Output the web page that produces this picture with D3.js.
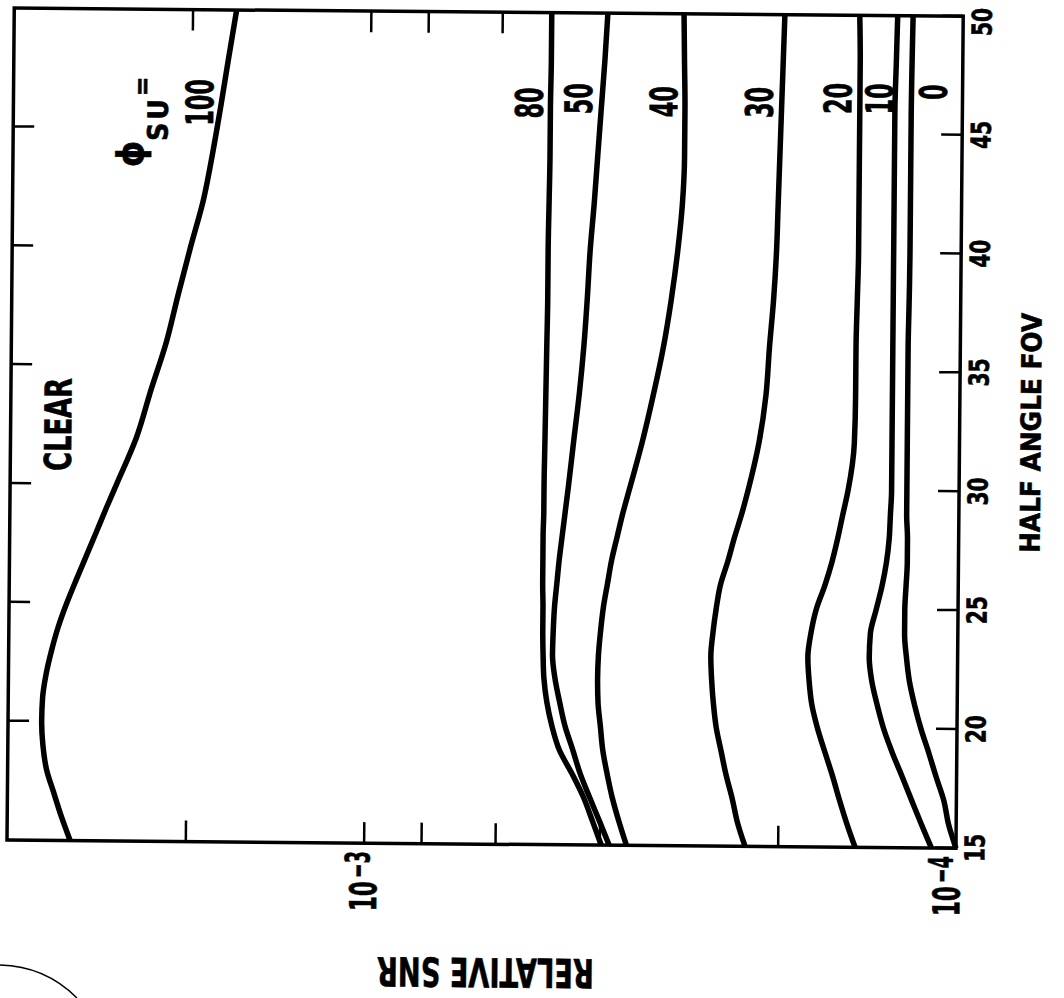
<!DOCTYPE html>
<html>
<head>
<meta charset="utf-8">
<script src="https://cdn.jsdelivr.net/npm/d3@7"></script>
<style>
	html, body { margin: 0; padding: 0; background: #fff; }
	svg { display: block; }
	text { font-family: "DejaVu Sans Condensed", "DejaVu Sans", sans-serif; font-weight: bold; fill: #000; stroke: #000; stroke-width: 0.6; }
</style>
</head>
<body>
<div id="chart"></div>
<script>
// half angle FOV (deg), shared by every curve
const fov = [15, 16, 17, 18, 19, 20, 21, 22, 23, 24, 25, 26, 27, 28, 29, 30, 32, 34, 36, 38, 40, 42, 44, 46, 48, 50];
const fovTicks = [15, 20, 25, 30, 35, 40, 45, 50];
const snrTicks = [2e-4, 4e-4, 6e-4, 8e-4, 1e-3, 2e-3];
const snrLabels = [1e-4, 1e-3];

// relative SNR for each phi_SU
const snr100 = [3.13e-3, 3.24e-3, 3.34e-3, 3.44e-3, 3.49e-3, 3.51e-3, 3.50e-3, 3.455e-3, 3.385e-3, 3.30e-3, 3.195e-3, 3.08e-3, 2.965e-3, 2.855e-3, 2.75e-3, 2.645e-3, 2.45e-3, 2.32e-3, 2.19e-3, 2.095e-3, 2.00e-3, 1.905e-3, 1.84e-3, 1.785e-3, 1.735e-3, 1.685e-3];
const snr80 = [3.97e-4, 4.11e-4, 4.26e-4, 4.46e-4, 4.69e-4, 4.83e-4, 4.93e-4, 4.99e-4, 5.01e-4, 5.02e-4, 5.02e-4, 5.03e-4, 5.03e-4, 5.03e-4, 5.02e-4, 5.02e-4, 5.01e-4, 5.00e-4, 4.99e-4, 4.98e-4, 4.98e-4, 4.97e-4, 4.96e-4, 4.96e-4, 4.95e-4, 4.95e-4];
const snr50 = [3.85e-4, 4.00e-4, 4.16e-4, 4.32e-4, 4.45e-4, 4.59e-4, 4.69e-4, 4.78e-4, 4.83e-4, 4.82e-4, 4.80e-4, 4.76e-4, 4.72e-4, 4.67e-4, 4.62e-4, 4.57e-4, 4.48e-4, 4.39e-4, 4.32e-4, 4.27e-4, 4.23e-4, 4.17e-4, 4.12e-4, 4.07e-4, 4.02e-4, 3.98e-4];
const snr40 = [3.60e-4, 3.71e-4, 3.81e-4, 3.89e-4, 3.96e-4, 4.00e-4, 4.04e-4, 4.05e-4, 4.04e-4, 4.01e-4, 3.97e-4, 3.91e-4, 3.85e-4, 3.77e-4, 3.69e-4, 3.60e-4, 3.43e-4, 3.29e-4, 3.17e-4, 3.08e-4, 3.01e-4, 2.96e-4, 2.94e-4, 2.94e-4, 2.95e-4, 2.96e-4];
const snr30 = [2.27e-4, 2.34e-4, 2.39e-4, 2.45e-4, 2.50e-4, 2.55e-4, 2.58e-4, 2.60e-4, 2.61e-4, 2.59e-4, 2.56e-4, 2.52e-4, 2.45e-4, 2.39e-4, 2.325e-4, 2.27e-4, 2.18e-4, 2.125e-4, 2.10e-4, 2.07e-4, 2.05e-4, 2.04e-4, 2.03e-4, 2.02e-4, 2.01e-4, 2.00e-4];
const snr20 = [1.48e-4, 1.53e-4, 1.576e-4, 1.62e-4, 1.67e-4, 1.72e-4, 1.76e-4, 1.78e-4, 1.79e-4, 1.77e-4, 1.735e-4, 1.68e-4, 1.635e-4, 1.60e-4, 1.57e-4, 1.54e-4, 1.505e-4, 1.50e-4, 1.50e-4, 1.495e-4, 1.49e-4, 1.49e-4, 1.49e-4, 1.49e-4, 1.49e-4, 1.495e-4];
const snr10 = [1.10e-4, 1.145e-4, 1.19e-4, 1.236e-4, 1.285e-4, 1.33e-4, 1.365e-4, 1.395e-4, 1.41e-4, 1.405e-4, 1.375e-4, 1.345e-4, 1.323e-4, 1.31e-4, 1.305e-4, 1.30e-4, 1.30e-4, 1.30e-4, 1.30e-4, 1.30e-4, 1.30e-4, 1.30e-4, 1.30e-4, 1.30e-4, 1.295e-4, 1.29e-4];
const snr0 = [1.00e-4, 1.03e-4, 1.05e-4, 1.083e-4, 1.115e-4, 1.15e-4, 1.18e-4, 1.205e-4, 1.22e-4, 1.23e-4, 1.23e-4, 1.225e-4, 1.22e-4, 1.22e-4, 1.225e-4, 1.225e-4, 1.225e-4, 1.225e-4, 1.225e-4, 1.222e-4, 1.22e-4, 1.22e-4, 1.22e-4, 1.22e-4, 1.218e-4, 1.215e-4];

// curve labels (baseline point in data units)
const curveNames = ['100', '80', '50', '40', '30', '20', '10', '0'];
const labelFov = [46.1, 46.2, 46.4, 46.3, 46.3, 46.5, 46.5, 46.8];
const labelSnr = [1.84e-3, 5.11e-4, 4.22e-4, 3.03e-4, 2.09e-4, 1.54e-4, 1.31e-4, 1.063e-4];

(() => {
	const W = 832;   // FOV axis length
	const H = 949;   // SNR axis length

	const svg = d3.select('#chart').append('svg')
		.attr('width', 1064)
		.attr('height', 998);
	svg.append('rect')
		.attr('width', 1064)
		.attr('height', 998)
		.attr('fill', '#fff');

	// chart is drawn upright, then turned a quarter left (with the scan's small tilt)
	const chart = svg.append('g')
		.attr('transform', 'translate(7, 840) rotate(-89.5)');

	const x = d3.scaleLinear().domain([15, 50]).range([0, W]);
	const y = d3.scaleLog().domain([1e-4, 4e-3]).range([H, 0]);

	const tickStyle = g => {
		g.select('.domain').remove();
		g.selectAll('.tick line')
			.attr('stroke', '#000')
			.attr('stroke-width', 2.5);
	};

	/* --------- Axes --------- */
	chart.append('g')
		.attr('transform', `translate(0, ${H})`)
		.call(d3.axisBottom(x).tickValues(fovTicks).tickSize(-21).tickPadding(9))
		.call(tickStyle)
		.call(g => g.selectAll('.tick text')
			.attr('font-size', 27.5)
			.attr('textLength', 28)
			.attr('lengthAdjust', 'spacingAndGlyphs'))
		// last label sits just inside the page edge
		.call(g => g.selectAll('.tick text').filter(d => d === 50).attr('dx', -6));
	chart.append('g')
		.call(d3.axisTop(x).tickValues(fovTicks.slice(1, -1)).tickSize(-21).tickFormat(''))
		.call(tickStyle);
	chart.append('g')
		.call(d3.axisLeft(y).tickValues(snrTicks).tickSize(-21).tickFormat(''))
		.call(tickStyle);
	chart.append('g')
		.attr('transform', `translate(${W}, 0)`)
		.call(d3.axisRight(y).tickValues(snrTicks).tickSize(-21).tickFormat(''))
		.call(tickStyle);

	chart.append('rect')
		.attr('width', W)
		.attr('height', H)
		.attr('fill', 'none')
		.attr('stroke', '#000')
		.attr('stroke-width', 3.5);

	// 10^n labels
	snrLabels.forEach(v => {
		const yb = Math.min(y(v) + 13, H + 4);
		const exp = String(Math.round(Math.log10(v))).replace('-', '\u2212');
		chart.append('text')
			.attr('x', -38)
			.attr('y', yb)
			.attr('text-anchor', 'end')
			.attr('font-size', 37)
			.attr('textLength', 30)
			.attr('lengthAdjust', 'spacingAndGlyphs')
			.text('10');
		chart.append('text')
			.attr('x', -8)
			.attr('y', yb - 7)
			.attr('text-anchor', 'end')
			.attr('font-size', 34)
			.attr('textLength', 27)
			.attr('lengthAdjust', 'spacingAndGlyphs')
			.text(exp);
	});

	chart.append('text')
		.attr('x', W / 2)
		.attr('y', H + 81)
		.attr('text-anchor', 'middle')
		.attr('font-size', 27.5)
		.attr('textLength', 240)
		.attr('lengthAdjust', 'spacingAndGlyphs')
		.text('HALF ANGLE FOV');
	chart.append('text')
		.attr('transform', `translate(-114, ${H / 2 + 5}) rotate(-90)`)
		.attr('text-anchor', 'middle')
		.attr('font-size', 40)
		.attr('textLength', 217)
		.attr('lengthAdjust', 'spacingAndGlyphs')
		.text('RELATIVE SNR');

	/* --------- Curves --------- */
	const curves = [snr100, snr80, snr50, snr40, snr30, snr20, snr10, snr0];
	const line = d3.line()
		.x((d, i) => x(fov[i]))
		.y(d => y(d))
		.curve(d3.curveMonotoneX);

	chart.append('g')
		.selectAll('path')
		.data(curves)
		.enter().append('path')
			.attr('d', line)
			.attr('fill', 'none')
			.attr('stroke', '#000')
			.attr('stroke-width', 5.5);

	chart.append('g')
		.selectAll('text')
		.data(curveNames)
		.enter().append('text')
			.attr('x', (d, i) => x(labelFov[i]))
			.attr('y', (d, i) => y(labelSnr[i]))
			.attr('text-anchor', 'middle')
			.attr('font-size', 38)
			.attr('textLength', d => 15.5 * d.length)
			.attr('lengthAdjust', 'spacingAndGlyphs')
			.text(d => d);

	chart.append('text')
		.attr('x', x(32.5))
		.attr('y', y(3.16e-3))
		.attr('text-anchor', 'middle')
		.attr('font-size', 37)
		.attr('textLength', 93)
		.attr('lengthAdjust', 'spacingAndGlyphs')
		.text('CLEAR');

	const phi = chart.append('text')
		.attr('x', x(43.35))
		.attr('y', y(2.41e-3))
		.attr('font-size', 37);
	phi.append('tspan').text('\u03d5');
	phi.append('tspan').attr('font-size', 28).attr('dy', 24).attr('letter-spacing', 3).text('SU');
	phi.append('tspan').attr('font-size', 26).attr('dy', -17).text('=');

	// stray pencil arc in the scan corner
	svg.append('path')
		.attr('d', 'M0,965 Q45,966 77,998')
		.attr('fill', 'none')
		.attr('stroke', '#000')
		.attr('stroke-width', 1.5);
})();
</script>
</body>
</html>
